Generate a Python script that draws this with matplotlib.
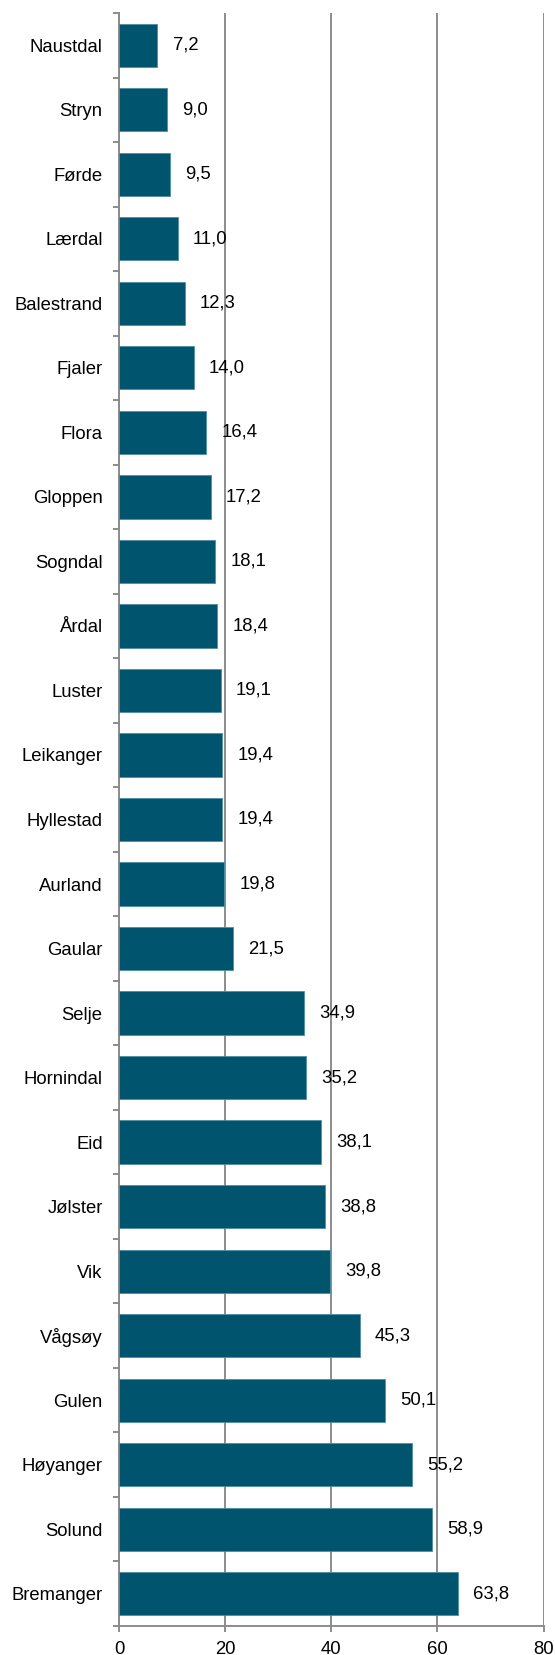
import matplotlib.pyplot as plt
import numpy as np

plt.rcParams['font.family'] = ['Liberation Sans', 'DejaVu Sans']

kommuner = ["Naustdal", "Stryn", "Førde", "Lærdal", "Balestrand", "Fjaler", "Flora",
            "Gloppen", "Sogndal", "Årdal", "Luster", "Leikanger", "Hyllestad", "Aurland",
            "Gaular", "Selje", "Hornindal", "Eid", "Jølster", "Vik", "Vågsøy", "Gulen",
            "Høyanger", "Solund", "Bremanger"]
verdi = [7.2, 9.0, 9.5, 11.0, 12.3, 14.0, 16.4, 17.2, 18.1, 18.4, 19.1, 19.4, 19.4, 19.8,
         21.5, 34.9, 35.2, 38.1, 38.8, 39.8, 45.3, 50.1, 55.2, 58.9, 63.8]
xticks = [0, 20, 40, 60, 80]

W, H = 555, 1655
fs = 13.3
fig = plt.figure(figsize=(W / 100, H / 100), dpi=100)
ax = fig.add_axes([119.3 / W, 1 - 1626 / H, (543.5 - 119.3) / W, (1626 - 13) / H])

y = np.arange(len(kommuner))
ax.barh(y, verdi, height=0.67, color="#00546e", edgecolor="#4d8ea3", linewidth=0.6, zorder=3)

for yi, v in zip(y, verdi):
    ax.annotate(f"{v:.1f}".replace(".", ","), (v, yi), xytext=(11, 0), textcoords="offset points",
                ha="left", va="center", fontsize=fs, color="black", zorder=4)

ax.set_ylim(len(kommuner) - 0.5, -0.5)
ax.set_xlim(0, 80)
ax.set_xticks(xticks)
ax.set_yticks(y)
ax.set_yticklabels(kommuner)
ax.set_yticks(np.arange(-0.5, len(kommuner)), minor=True)

ax.grid(axis="x", color="#8c8c8c", linewidth=1.4, zorder=0)
for s in ["top", "right"]:
    ax.spines[s].set_visible(False)
for s in ["left", "bottom"]:
    ax.spines[s].set_color("#8c8c8c")
    ax.spines[s].set_linewidth(1.4)

ax.tick_params(axis="y", which="major", length=0, pad=12, labelsize=fs)
ax.tick_params(axis="y", which="minor", length=4.5, width=1.4, color="#8c8c8c")
ax.tick_params(axis="x", length=4.5, width=1.4, color="#8c8c8c", pad=6, labelsize=fs)

fig.savefig("out.png", dpi=100)
